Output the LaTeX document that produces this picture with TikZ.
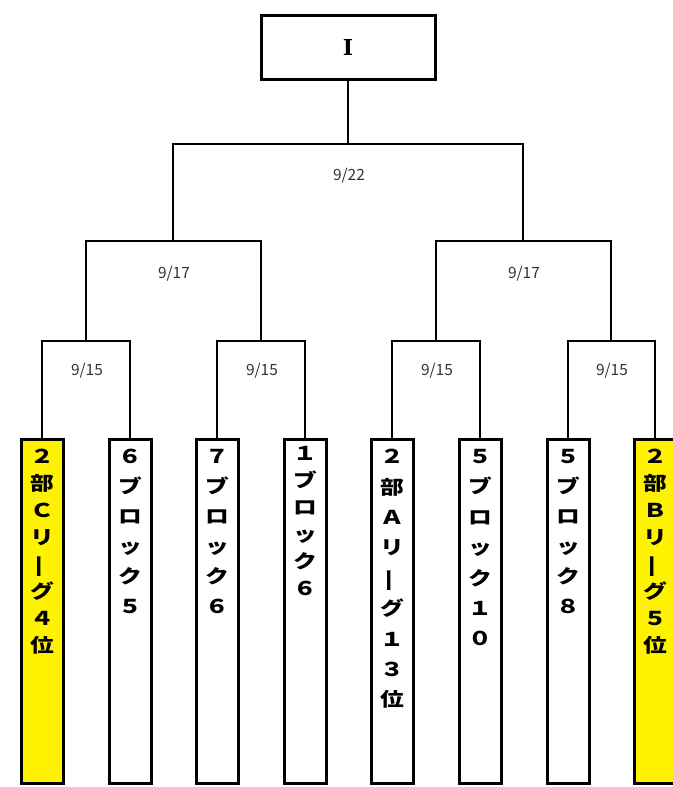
\documentclass[tikz,border=0pt]{standalone}
\usepackage{fontspec}
\setmainfont{Noto Sans CJK JP}[BoldFont={* Bold}]
\newfontfamily\teamfont{Noto Sans CJK JP Black}[FakeStretch=1.25]
\newfontfamily\romanfont{DejaVu Serif}
\usetikzlibrary{positioning}
\newcommand\cho{\smash{\rotatebox[origin=c]{90}{ー}}}
\tikzset{
  team/.style={draw,line width=3pt,minimum width=42pt,minimum height=344pt,
    anchor=north,inner sep=0pt},
  tname/.style={anchor=north,inner sep=0pt,align=center,yshift=-11pt,
    font=\teamfont\fontsize{19}{#1}\selectfont},
  tname/.default=27,
  date/.style={font=\fontsize{15.5}{15.5}\selectfont,text=black!80},
  link/.style={line width=2pt}
}
\begin{document}
\begin{tikzpicture}[x=1pt,y=-1pt]
%  \draw[help lines] (0,0) grid (672,787);
    \useasboundingbox (0,0) rectangle (672,787);
    \path (348,47) node(top) [draw,line width=3pt,minimum width=174pt,minimum height=64pt]
      {\romanfont\fontsize{22}{22}\selectfont\bfseries I}
    (42,438) node(a) [team,fill=yellow] {}
    (130,438) node(b) [team] {}
    (217,438) node(c) [team] {}
    (305,438) node(d) [team] {}
    (392,438) node(e) [team] {}
    (480,438) node(f) [team] {}
    (568,438) node(g) [team] {}
    (655,438) node(h) [team,fill=yellow] {};
    \node (ta) [tname] at (a.north) {２\\部\\Ｃ\\リ\\\cho\\グ\\４\\位};
    \node (tb) [tname=30] at (b.north) {６\\ブ\\ロ\\ッ\\ク\\５};
    \node (tc) [tname=30] at (c.north) {７\\ブ\\ロ\\ッ\\ク\\６};
    \node (td) [tname,yshift=3pt] at (d.north) {１\\ブ\\ロ\\ッ\\ク\\６};
    \node (te) [tname=30.4] at (e.north) {２\\部\\Ａ\\リ\\\cho\\グ\\１\\３\\位};
    \node (tf) [tname=30.4] at (f.north) {５\\ブ\\ロ\\ッ\\ク\\１\\０};
    \node (tg) [tname=30] at (g.north) {５\\ブ\\ロ\\ッ\\ク\\８};
    \node (th) [tname] at (h.north) {２\\部\\Ｂ\\リ\\\cho\\グ\\５\\位};
    \coordinate (fin) at (348,144);
    \coordinate (s1) at (173,241);
    \coordinate (s2) at (523,241);
    \coordinate (q1) at (86,341);
    \coordinate (q2) at (261,341);
    \coordinate (q3) at (436,341);
    \coordinate (q4) at (611,341);
    \draw[link] (top) -- (fin);
    \draw[link] (s1) |- (fin) -| (s2);
    \draw[link] (q1) |- (s1) -| (q2);
    \draw[link] (q3) |- (s2) -| (q4);
    \draw[link] (a) |- (q1) -| (b);
    \draw[link] (c) |- (q2) -| (d);
    \draw[link] (e) |- (q3) -| (f);
    \draw[link] (g) |- (q4) -| (h);
    \path (349,176) node(dfin) [date] {9/22}
    (174,274) node(ds1) [date] {9/17}
    (524,274) node(ds2) [date] {9/17}
    (87,371) node(dq1) [date] {9/15}
    (262,371) node(dq2) [date] {9/15}
    (437,371) node(dq3) [date] {9/15}
    (612,371) node(dq4) [date] {9/15};
\end{tikzpicture}
\end{document}
